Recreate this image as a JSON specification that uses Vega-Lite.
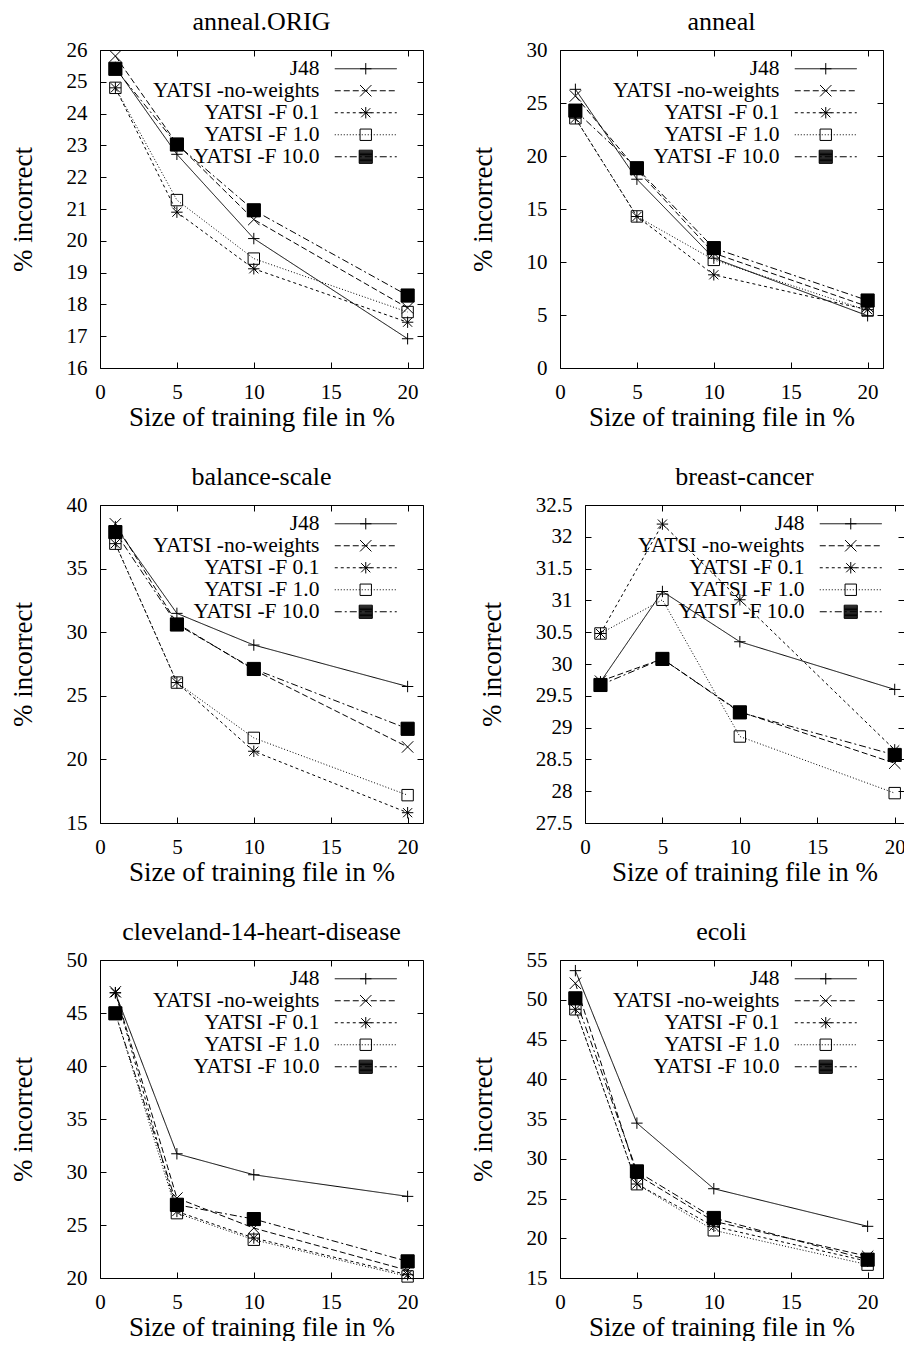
{
"$schema": "https://vega.github.io/schema/vega-lite/v6.json",
"background": "white",
"padding": {"left": 8, "top": 8, "right": 0, "bottom": 0},
"autosize": {"type": "pad"},
"config": {
 "font": "Liberation Serif",
 "view": {"stroke": "black", "strokeWidth": 1},
 "axis": {"grid": false, "domain": false, "tickColor": "black", "tickSize": -6, "tickWidth": 1, "labelFont": "Liberation Serif", "labelFontSize": 21, "labelColor": "black", "labelFlush": false, "labelOverlap": false, "titleFont": "Liberation Serif", "titleFontSize": 27, "titleFontWeight": "normal", "titleColor": "black"},
 "axisX": {"labelPadding": 19, "titlePadding": 2},
 "axisY": {"labelPadding": 19, "titlePadding": 29},
 "title": {"font": "Liberation Serif", "fontSize": 26, "fontWeight": "normal", "color": "black", "offset": 4, "frame": "group", "baseline": "alphabetic"}
},
"data": {"values": [
{"dataset":"anneal.ORIG","method":"J48","train":1,"err":25.45},{"dataset":"anneal.ORIG","method":"J48","train":5,"err":22.72},{"dataset":"anneal.ORIG","method":"J48","train":10,"err":20.07},{"dataset":"anneal.ORIG","method":"J48","train":20,"err":16.92},
{"dataset":"anneal.ORIG","method":"YATSI -no-weights","train":1,"err":25.81},{"dataset":"anneal.ORIG","method":"YATSI -no-weights","train":5,"err":23.05},{"dataset":"anneal.ORIG","method":"YATSI -no-weights","train":10,"err":20.67},{"dataset":"anneal.ORIG","method":"YATSI -no-weights","train":20,"err":17.89},
{"dataset":"anneal.ORIG","method":"YATSI -F 0.1","train":1,"err":24.81},{"dataset":"anneal.ORIG","method":"YATSI -F 0.1","train":5,"err":20.90},{"dataset":"anneal.ORIG","method":"YATSI -F 0.1","train":10,"err":19.12},{"dataset":"anneal.ORIG","method":"YATSI -F 0.1","train":20,"err":17.44},
{"dataset":"anneal.ORIG","method":"YATSI -F 1.0","train":1,"err":24.81},{"dataset":"anneal.ORIG","method":"YATSI -F 1.0","train":5,"err":21.28},{"dataset":"anneal.ORIG","method":"YATSI -F 1.0","train":10,"err":19.44},{"dataset":"anneal.ORIG","method":"YATSI -F 1.0","train":20,"err":17.76},
{"dataset":"anneal.ORIG","method":"YATSI -F 10.0","train":1,"err":25.41},{"dataset":"anneal.ORIG","method":"YATSI -F 10.0","train":5,"err":23.03},{"dataset":"anneal.ORIG","method":"YATSI -F 10.0","train":10,"err":20.96},{"dataset":"anneal.ORIG","method":"YATSI -F 10.0","train":20,"err":18.28},

{"dataset":"anneal","method":"J48","train":1,"err":26.29},{"dataset":"anneal","method":"J48","train":5,"err":17.81},{"dataset":"anneal","method":"J48","train":10,"err":10.36},{"dataset":"anneal","method":"J48","train":20,"err":4.93},
{"dataset":"anneal","method":"YATSI -no-weights","train":1,"err":25.66},{"dataset":"anneal","method":"YATSI -no-weights","train":5,"err":18.7},{"dataset":"anneal","method":"YATSI -no-weights","train":10,"err":10.83},{"dataset":"anneal","method":"YATSI -no-weights","train":20,"err":5.8},
{"dataset":"anneal","method":"YATSI -F 0.1","train":1,"err":23.56},{"dataset":"anneal","method":"YATSI -F 0.1","train":5,"err":14.29},{"dataset":"anneal","method":"YATSI -F 0.1","train":10,"err":8.79},{"dataset":"anneal","method":"YATSI -F 0.1","train":20,"err":5.5},
{"dataset":"anneal","method":"YATSI -F 1.0","train":1,"err":23.56},{"dataset":"anneal","method":"YATSI -F 1.0","train":5,"err":14.3},{"dataset":"anneal","method":"YATSI -F 1.0","train":10,"err":10.2},{"dataset":"anneal","method":"YATSI -F 1.0","train":20,"err":5.43},
{"dataset":"anneal","method":"YATSI -F 10.0","train":1,"err":24.28},{"dataset":"anneal","method":"YATSI -F 10.0","train":5,"err":18.85},{"dataset":"anneal","method":"YATSI -F 10.0","train":10,"err":11.31},{"dataset":"anneal","method":"YATSI -F 10.0","train":20,"err":6.37},

{"dataset":"balance-scale","method":"J48","train":1,"err":38.3},{"dataset":"balance-scale","method":"J48","train":5,"err":31.48},{"dataset":"balance-scale","method":"J48","train":10,"err":28.99},{"dataset":"balance-scale","method":"J48","train":20,"err":25.73},
{"dataset":"balance-scale","method":"YATSI -no-weights","train":1,"err":38.52},{"dataset":"balance-scale","method":"YATSI -no-weights","train":5,"err":30.7},{"dataset":"balance-scale","method":"YATSI -no-weights","train":10,"err":27.04},{"dataset":"balance-scale","method":"YATSI -no-weights","train":20,"err":20.98},
{"dataset":"balance-scale","method":"YATSI -F 0.1","train":1,"err":36.96},{"dataset":"balance-scale","method":"YATSI -F 0.1","train":5,"err":26.04},{"dataset":"balance-scale","method":"YATSI -F 0.1","train":10,"err":20.64},{"dataset":"balance-scale","method":"YATSI -F 0.1","train":20,"err":15.81},
{"dataset":"balance-scale","method":"YATSI -F 1.0","train":1,"err":36.96},{"dataset":"balance-scale","method":"YATSI -F 1.0","train":5,"err":26.04},{"dataset":"balance-scale","method":"YATSI -F 1.0","train":10,"err":21.69},{"dataset":"balance-scale","method":"YATSI -F 1.0","train":20,"err":17.19},
{"dataset":"balance-scale","method":"YATSI -F 10.0","train":1,"err":37.87},{"dataset":"balance-scale","method":"YATSI -F 10.0","train":5,"err":30.61},{"dataset":"balance-scale","method":"YATSI -F 10.0","train":10,"err":27.11},{"dataset":"balance-scale","method":"YATSI -F 10.0","train":20,"err":22.41},

{"dataset":"breast-cancer","method":"J48","train":1,"err":29.72},{"dataset":"breast-cancer","method":"J48","train":5,"err":31.14},{"dataset":"breast-cancer","method":"J48","train":10,"err":30.35},{"dataset":"breast-cancer","method":"J48","train":20,"err":29.6},
{"dataset":"breast-cancer","method":"YATSI -no-weights","train":1,"err":29.73},{"dataset":"breast-cancer","method":"YATSI -no-weights","train":5,"err":30.08},{"dataset":"breast-cancer","method":"YATSI -no-weights","train":10,"err":29.25},{"dataset":"breast-cancer","method":"YATSI -no-weights","train":20,"err":28.44},
{"dataset":"breast-cancer","method":"YATSI -F 0.1","train":1,"err":30.48},{"dataset":"breast-cancer","method":"YATSI -F 0.1","train":5,"err":32.2},{"dataset":"breast-cancer","method":"YATSI -F 0.1","train":10,"err":31.01},{"dataset":"breast-cancer","method":"YATSI -F 0.1","train":20,"err":28.65},
{"dataset":"breast-cancer","method":"YATSI -F 1.0","train":1,"err":30.48},{"dataset":"breast-cancer","method":"YATSI -F 1.0","train":5,"err":31.01},{"dataset":"breast-cancer","method":"YATSI -F 1.0","train":10,"err":28.86},{"dataset":"breast-cancer","method":"YATSI -F 1.0","train":20,"err":27.97},
{"dataset":"breast-cancer","method":"YATSI -F 10.0","train":1,"err":29.67},{"dataset":"breast-cancer","method":"YATSI -F 10.0","train":5,"err":30.08},{"dataset":"breast-cancer","method":"YATSI -F 10.0","train":10,"err":29.24},{"dataset":"breast-cancer","method":"YATSI -F 10.0","train":20,"err":28.57},

{"dataset":"cleveland-14-heart-disease","method":"J48","train":1,"err":46.9},{"dataset":"cleveland-14-heart-disease","method":"J48","train":5,"err":31.72},{"dataset":"cleveland-14-heart-disease","method":"J48","train":10,"err":29.74},{"dataset":"cleveland-14-heart-disease","method":"J48","train":20,"err":27.7},
{"dataset":"cleveland-14-heart-disease","method":"YATSI -no-weights","train":1,"err":47.0},{"dataset":"cleveland-14-heart-disease","method":"YATSI -no-weights","train":5,"err":27.54},{"dataset":"cleveland-14-heart-disease","method":"YATSI -no-weights","train":10,"err":24.71},{"dataset":"cleveland-14-heart-disease","method":"YATSI -no-weights","train":20,"err":20.72},
{"dataset":"cleveland-14-heart-disease","method":"YATSI -F 0.1","train":1,"err":46.92},{"dataset":"cleveland-14-heart-disease","method":"YATSI -F 0.1","train":5,"err":26.28},{"dataset":"cleveland-14-heart-disease","method":"YATSI -F 0.1","train":10,"err":23.77},{"dataset":"cleveland-14-heart-disease","method":"YATSI -F 0.1","train":20,"err":20.31},
{"dataset":"cleveland-14-heart-disease","method":"YATSI -F 1.0","train":1,"err":45.0},{"dataset":"cleveland-14-heart-disease","method":"YATSI -F 1.0","train":5,"err":26.12},{"dataset":"cleveland-14-heart-disease","method":"YATSI -F 1.0","train":10,"err":23.61},{"dataset":"cleveland-14-heart-disease","method":"YATSI -F 1.0","train":20,"err":20.15},
{"dataset":"cleveland-14-heart-disease","method":"YATSI -F 10.0","train":1,"err":44.97},{"dataset":"cleveland-14-heart-disease","method":"YATSI -F 10.0","train":5,"err":26.91},{"dataset":"cleveland-14-heart-disease","method":"YATSI -F 10.0","train":10,"err":25.56},{"dataset":"cleveland-14-heart-disease","method":"YATSI -F 10.0","train":20,"err":21.57},

{"dataset":"ecoli","method":"J48","train":1,"err":53.66},{"dataset":"ecoli","method":"J48","train":5,"err":34.48},{"dataset":"ecoli","method":"J48","train":10,"err":26.23},{"dataset":"ecoli","method":"J48","train":20,"err":21.5},
{"dataset":"ecoli","method":"YATSI -no-weights","train":1,"err":52.07},{"dataset":"ecoli","method":"YATSI -no-weights","train":5,"err":28.0},{"dataset":"ecoli","method":"YATSI -no-weights","train":10,"err":22.13},{"dataset":"ecoli","method":"YATSI -no-weights","train":20,"err":17.73},
{"dataset":"ecoli","method":"YATSI -F 0.1","train":1,"err":48.8},{"dataset":"ecoli","method":"YATSI -F 0.1","train":5,"err":26.82},{"dataset":"ecoli","method":"YATSI -F 0.1","train":10,"err":21.5},{"dataset":"ecoli","method":"YATSI -F 0.1","train":20,"err":17.1},
{"dataset":"ecoli","method":"YATSI -F 1.0","train":1,"err":48.8},{"dataset":"ecoli","method":"YATSI -F 1.0","train":5,"err":26.8},{"dataset":"ecoli","method":"YATSI -F 1.0","train":10,"err":21.0},{"dataset":"ecoli","method":"YATSI -F 1.0","train":20,"err":16.68},
{"dataset":"ecoli","method":"YATSI -F 10.0","train":1,"err":50.18},{"dataset":"ecoli","method":"YATSI -F 10.0","train":5,"err":28.41},{"dataset":"ecoli","method":"YATSI -F 10.0","train":10,"err":22.55},{"dataset":"ecoli","method":"YATSI -F 10.0","train":20,"err":17.31}
]},
"spacing": 32,
"resolve": {"scale": {"x": "independent", "y": "independent", "strokeDash": "independent", "shape": "independent"}, "legend": {"strokeDash": "independent", "shape": "independent"}},
"vconcat": [
{"hconcat": [
 {"title": "anneal.ORIG", "width": 323, "height": 318,
  "transform": [{"filter": {"field": "dataset", "equal": "anneal.ORIG"}}],
  "layer": [
   {"mark": {"type": "line", "color": "black", "strokeWidth": 1},
    "encoding": {
     "x": {"field": "train", "type": "quantitative", "scale": {"domain": [0, 21], "nice": false, "zero": false}, "axis": {"orient": "bottom", "values": [0,5,10,15,20], "title": "Size of training file in %"}},
     "y": {"field": "err", "type": "quantitative", "scale": {"domain": [16, 26], "nice": false, "zero": false}, "axis": {"orient": "left", "values": [16,17,18,19,20,21,22,23,24,25,26], "format": "~g", "title": "% incorrect"}},
     "strokeDash": {"field": "method", "type": "nominal", "scale": {"domain": ["J48","YATSI -no-weights","YATSI -F 0.1","YATSI -F 1.0","YATSI -F 10.0"], "range": [[1,0],[6,3],[3,3],[1,2],[7,3,2,3]]},
      "legend": {"orient": "none", "legendX": 255, "legendY": 8, "title": null, "symbolType": "M-15.5,0H15.5", "symbolSize": 16, "symbolStrokeColor": "black", "symbolStrokeWidth": 1, "symbolFillColor": "transparent", "padding": 0, "rowPadding": -4.5, "labelAlign": "right", "labelBaseline": "middle", "labelOffset": -57, "labelFont": "Liberation Serif", "labelFontSize": 21.5, "labelColor": "black", "labelLimit": 400}}
    }},
   {"mark": {"type": "point", "size": 130, "color": "black", "stroke": "black", "strokeWidth": 1, "opacity": 1},
    "encoding": {
     "x": {"field": "train", "type": "quantitative", "scale": {"domain": [0, 21], "nice": false, "zero": false}, "axis": {"orient": "top", "values": [0,5,10,15,20], "labels": false, "title": null}},
     "y": {"field": "err", "type": "quantitative", "scale": {"domain": [16, 26], "nice": false, "zero": false}, "axis": {"orient": "right", "values": [16,17,18,19,20,21,22,23,24,25,26], "labels": false, "title": null}},
     "shape": {"field": "method", "type": "nominal", "sort": ["J48","YATSI -no-weights","YATSI -F 0.1","YATSI -F 1.0","YATSI -F 10.0"], "scale": {"range": ["M-1,0H1M0,-1V1","M-1,-1L1,1M-1,1L1,-1","M-1,0H1M0,-1V1M-0.8,-0.8L0.8,0.8M-0.8,0.8L0.8,-0.8","M-1,-1H1V1H-1Z","M-1.15,-1.15H1.15V1.15H-1.15ZM-1.15,-1H1.15M-1.15,-0.85H1.15M-1.15,-0.7H1.15M-1.15,-0.55H1.15M-1.15,-0.4H1.15M-1.15,-0.25H1.15M-1.15,-0.1H1.15M-1.15,0.05H1.15M-1.15,0.2H1.15M-1.15,0.35H1.15M-1.15,0.5H1.15M-1.15,0.65H1.15M-1.15,0.8H1.15M-1.15,0.95H1.15M-1.15,1.1H1.15"]},
      "legend": {"orient": "none", "legendX": 255, "legendY": 8, "title": null, "symbolSize": 130, "symbolStrokeColor": "black", "symbolStrokeWidth": 1, "symbolFillColor": "white", "padding": 0, "rowPadding": -4.5, "labelFontSize": 21.5, "labelOpacity": 0, "labelExpr": "' '", "labelLimit": 400, "labelBaseline": "middle", "encode": {"symbols": {"update": {"fill": {"value": "white"}, "fillOpacity": {"value": 1}, "opacity": {"value": 1}}}}}},
     "fill": {"condition": {"test": "datum.method === 'YATSI -F 10.0'", "value": "black"}, "value": "transparent"}
    }}
  ]},
 {"title": "anneal", "width": 323, "height": 318,
  "transform": [{"filter": {"field": "dataset", "equal": "anneal"}}],
  "layer": [
   {"mark": {"type": "line", "color": "black", "strokeWidth": 1},
    "encoding": {
     "x": {"field": "train", "type": "quantitative", "scale": {"domain": [0, 21], "nice": false, "zero": false}, "axis": {"orient": "bottom", "values": [0,5,10,15,20], "title": "Size of training file in %"}},
     "y": {"field": "err", "type": "quantitative", "scale": {"domain": [0, 30], "nice": false, "zero": false}, "axis": {"orient": "left", "values": [0,5,10,15,20,25,30], "format": "~g", "title": "% incorrect"}},
     "strokeDash": {"field": "method", "type": "nominal", "scale": {"domain": ["J48","YATSI -no-weights","YATSI -F 0.1","YATSI -F 1.0","YATSI -F 10.0"], "range": [[1,0],[6,3],[3,3],[1,2],[7,3,2,3]]},
      "legend": {"orient": "none", "legendX": 255, "legendY": 8, "title": null, "symbolType": "M-15.5,0H15.5", "symbolSize": 16, "symbolStrokeColor": "black", "symbolStrokeWidth": 1, "symbolFillColor": "transparent", "padding": 0, "rowPadding": -4.5, "labelAlign": "right", "labelBaseline": "middle", "labelOffset": -57, "labelFont": "Liberation Serif", "labelFontSize": 21.5, "labelColor": "black", "labelLimit": 400}}
    }},
   {"mark": {"type": "point", "size": 130, "color": "black", "stroke": "black", "strokeWidth": 1, "opacity": 1},
    "encoding": {
     "x": {"field": "train", "type": "quantitative", "scale": {"domain": [0, 21], "nice": false, "zero": false}, "axis": {"orient": "top", "values": [0,5,10,15,20], "labels": false, "title": null}},
     "y": {"field": "err", "type": "quantitative", "scale": {"domain": [0, 30], "nice": false, "zero": false}, "axis": {"orient": "right", "values": [0,5,10,15,20,25,30], "labels": false, "title": null}},
     "shape": {"field": "method", "type": "nominal", "sort": ["J48","YATSI -no-weights","YATSI -F 0.1","YATSI -F 1.0","YATSI -F 10.0"], "scale": {"range": ["M-1,0H1M0,-1V1","M-1,-1L1,1M-1,1L1,-1","M-1,0H1M0,-1V1M-0.8,-0.8L0.8,0.8M-0.8,0.8L0.8,-0.8","M-1,-1H1V1H-1Z","M-1.15,-1.15H1.15V1.15H-1.15ZM-1.15,-1H1.15M-1.15,-0.85H1.15M-1.15,-0.7H1.15M-1.15,-0.55H1.15M-1.15,-0.4H1.15M-1.15,-0.25H1.15M-1.15,-0.1H1.15M-1.15,0.05H1.15M-1.15,0.2H1.15M-1.15,0.35H1.15M-1.15,0.5H1.15M-1.15,0.65H1.15M-1.15,0.8H1.15M-1.15,0.95H1.15M-1.15,1.1H1.15"]},
      "legend": {"orient": "none", "legendX": 255, "legendY": 8, "title": null, "symbolSize": 130, "symbolStrokeColor": "black", "symbolStrokeWidth": 1, "symbolFillColor": "white", "padding": 0, "rowPadding": -4.5, "labelFontSize": 21.5, "labelOpacity": 0, "labelExpr": "' '", "labelLimit": 400, "labelBaseline": "middle", "encode": {"symbols": {"update": {"fill": {"value": "white"}, "fillOpacity": {"value": 1}, "opacity": {"value": 1}}}}}},
     "fill": {"condition": {"test": "datum.method === 'YATSI -F 10.0'", "value": "black"}, "value": "transparent"}
    }}
  ]}
 ], "spacing": 137, "bounds": "flush",
 "resolve": {"scale": {"x": "independent", "y": "independent", "strokeDash": "independent", "shape": "independent"}, "legend": {"strokeDash": "independent", "shape": "independent"}}},
{"hconcat": [
 {"title": "balance-scale", "width": 323, "height": 318,
  "transform": [{"filter": {"field": "dataset", "equal": "balance-scale"}}],
  "layer": [
   {"mark": {"type": "line", "color": "black", "strokeWidth": 1},
    "encoding": {
     "x": {"field": "train", "type": "quantitative", "scale": {"domain": [0, 21], "nice": false, "zero": false}, "axis": {"orient": "bottom", "values": [0,5,10,15,20], "title": "Size of training file in %"}},
     "y": {"field": "err", "type": "quantitative", "scale": {"domain": [15, 40], "nice": false, "zero": false}, "axis": {"orient": "left", "values": [15,20,25,30,35,40], "format": "~g", "title": "% incorrect"}},
     "strokeDash": {"field": "method", "type": "nominal", "scale": {"domain": ["J48","YATSI -no-weights","YATSI -F 0.1","YATSI -F 1.0","YATSI -F 10.0"], "range": [[1,0],[6,3],[3,3],[1,2],[7,3,2,3]]},
      "legend": {"orient": "none", "legendX": 255, "legendY": 8, "title": null, "symbolType": "M-15.5,0H15.5", "symbolSize": 16, "symbolStrokeColor": "black", "symbolStrokeWidth": 1, "symbolFillColor": "transparent", "padding": 0, "rowPadding": -4.5, "labelAlign": "right", "labelBaseline": "middle", "labelOffset": -57, "labelFont": "Liberation Serif", "labelFontSize": 21.5, "labelColor": "black", "labelLimit": 400}}
    }},
   {"mark": {"type": "point", "size": 130, "color": "black", "stroke": "black", "strokeWidth": 1, "opacity": 1},
    "encoding": {
     "x": {"field": "train", "type": "quantitative", "scale": {"domain": [0, 21], "nice": false, "zero": false}, "axis": {"orient": "top", "values": [0,5,10,15,20], "labels": false, "title": null}},
     "y": {"field": "err", "type": "quantitative", "scale": {"domain": [15, 40], "nice": false, "zero": false}, "axis": {"orient": "right", "values": [15,20,25,30,35,40], "labels": false, "title": null}},
     "shape": {"field": "method", "type": "nominal", "sort": ["J48","YATSI -no-weights","YATSI -F 0.1","YATSI -F 1.0","YATSI -F 10.0"], "scale": {"range": ["M-1,0H1M0,-1V1","M-1,-1L1,1M-1,1L1,-1","M-1,0H1M0,-1V1M-0.8,-0.8L0.8,0.8M-0.8,0.8L0.8,-0.8","M-1,-1H1V1H-1Z","M-1.15,-1.15H1.15V1.15H-1.15ZM-1.15,-1H1.15M-1.15,-0.85H1.15M-1.15,-0.7H1.15M-1.15,-0.55H1.15M-1.15,-0.4H1.15M-1.15,-0.25H1.15M-1.15,-0.1H1.15M-1.15,0.05H1.15M-1.15,0.2H1.15M-1.15,0.35H1.15M-1.15,0.5H1.15M-1.15,0.65H1.15M-1.15,0.8H1.15M-1.15,0.95H1.15M-1.15,1.1H1.15"]},
      "legend": {"orient": "none", "legendX": 255, "legendY": 8, "title": null, "symbolSize": 130, "symbolStrokeColor": "black", "symbolStrokeWidth": 1, "symbolFillColor": "white", "padding": 0, "rowPadding": -4.5, "labelFontSize": 21.5, "labelOpacity": 0, "labelExpr": "' '", "labelLimit": 400, "labelBaseline": "middle", "encode": {"symbols": {"update": {"fill": {"value": "white"}, "fillOpacity": {"value": 1}, "opacity": {"value": 1}}}}}},
     "fill": {"condition": {"test": "datum.method === 'YATSI -F 10.0'", "value": "black"}, "value": "transparent"}
    }}
  ]},
 {"title": "breast-cancer", "width": 319, "height": 318,
  "transform": [{"filter": {"field": "dataset", "equal": "breast-cancer"}}],
  "layer": [
   {"mark": {"type": "line", "color": "black", "strokeWidth": 1},
    "encoding": {
     "x": {"field": "train", "type": "quantitative", "scale": {"domain": [0, 20.6], "nice": false, "zero": false}, "axis": {"orient": "bottom", "values": [0,5,10,15,20], "title": "Size of training file in %"}},
     "y": {"field": "err", "type": "quantitative", "scale": {"domain": [27.5, 32.5], "nice": false, "zero": false}, "axis": {"orient": "left", "values": [27.5,28,28.5,29,29.5,30,30.5,31,31.5,32,32.5], "format": "~g", "title": "% incorrect"}},
     "strokeDash": {"field": "method", "type": "nominal", "scale": {"domain": ["J48","YATSI -no-weights","YATSI -F 0.1","YATSI -F 1.0","YATSI -F 10.0"], "range": [[1,0],[6,3],[3,3],[1,2],[7,3,2,3]]},
      "legend": {"orient": "none", "legendX": 255, "legendY": 8, "title": null, "symbolType": "M-15.5,0H15.5", "symbolSize": 16, "symbolStrokeColor": "black", "symbolStrokeWidth": 1, "symbolFillColor": "transparent", "padding": 0, "rowPadding": -4.5, "labelAlign": "right", "labelBaseline": "middle", "labelOffset": -57, "labelFont": "Liberation Serif", "labelFontSize": 21.5, "labelColor": "black", "labelLimit": 400}}
    }},
   {"mark": {"type": "point", "size": 130, "color": "black", "stroke": "black", "strokeWidth": 1, "opacity": 1},
    "encoding": {
     "x": {"field": "train", "type": "quantitative", "scale": {"domain": [0, 20.6], "nice": false, "zero": false}, "axis": {"orient": "top", "values": [0,5,10,15,20], "labels": false, "title": null}},
     "y": {"field": "err", "type": "quantitative", "scale": {"domain": [27.5, 32.5], "nice": false, "zero": false}, "axis": {"orient": "right", "values": [27.5,28,28.5,29,29.5,30,30.5,31,31.5,32,32.5], "labels": false, "title": null}},
     "shape": {"field": "method", "type": "nominal", "sort": ["J48","YATSI -no-weights","YATSI -F 0.1","YATSI -F 1.0","YATSI -F 10.0"], "scale": {"range": ["M-1,0H1M0,-1V1","M-1,-1L1,1M-1,1L1,-1","M-1,0H1M0,-1V1M-0.8,-0.8L0.8,0.8M-0.8,0.8L0.8,-0.8","M-1,-1H1V1H-1Z","M-1.15,-1.15H1.15V1.15H-1.15ZM-1.15,-1H1.15M-1.15,-0.85H1.15M-1.15,-0.7H1.15M-1.15,-0.55H1.15M-1.15,-0.4H1.15M-1.15,-0.25H1.15M-1.15,-0.1H1.15M-1.15,0.05H1.15M-1.15,0.2H1.15M-1.15,0.35H1.15M-1.15,0.5H1.15M-1.15,0.65H1.15M-1.15,0.8H1.15M-1.15,0.95H1.15M-1.15,1.1H1.15"]},
      "legend": {"orient": "none", "legendX": 255, "legendY": 8, "title": null, "symbolSize": 130, "symbolStrokeColor": "black", "symbolStrokeWidth": 1, "symbolFillColor": "white", "padding": 0, "rowPadding": -4.5, "labelFontSize": 21.5, "labelOpacity": 0, "labelExpr": "' '", "labelLimit": 400, "labelBaseline": "middle", "encode": {"symbols": {"update": {"fill": {"value": "white"}, "fillOpacity": {"value": 1}, "opacity": {"value": 1}}}}}},
     "fill": {"condition": {"test": "datum.method === 'YATSI -F 10.0'", "value": "black"}, "value": "transparent"}
    }}
  ]}
 ], "spacing": 162, "bounds": "flush",
 "resolve": {"scale": {"x": "independent", "y": "independent", "strokeDash": "independent", "shape": "independent"}, "legend": {"strokeDash": "independent", "shape": "independent"}}},
{"hconcat": [
 {"title": "cleveland-14-heart-disease", "width": 323, "height": 318,
  "transform": [{"filter": {"field": "dataset", "equal": "cleveland-14-heart-disease"}}],
  "layer": [
   {"mark": {"type": "line", "color": "black", "strokeWidth": 1},
    "encoding": {
     "x": {"field": "train", "type": "quantitative", "scale": {"domain": [0, 21], "nice": false, "zero": false}, "axis": {"orient": "bottom", "values": [0,5,10,15,20], "title": "Size of training file in %"}},
     "y": {"field": "err", "type": "quantitative", "scale": {"domain": [20, 50], "nice": false, "zero": false}, "axis": {"orient": "left", "values": [20,25,30,35,40,45,50], "format": "~g", "title": "% incorrect"}},
     "strokeDash": {"field": "method", "type": "nominal", "scale": {"domain": ["J48","YATSI -no-weights","YATSI -F 0.1","YATSI -F 1.0","YATSI -F 10.0"], "range": [[1,0],[6,3],[3,3],[1,2],[7,3,2,3]]},
      "legend": {"orient": "none", "legendX": 255, "legendY": 8, "title": null, "symbolType": "M-15.5,0H15.5", "symbolSize": 16, "symbolStrokeColor": "black", "symbolStrokeWidth": 1, "symbolFillColor": "transparent", "padding": 0, "rowPadding": -4.5, "labelAlign": "right", "labelBaseline": "middle", "labelOffset": -57, "labelFont": "Liberation Serif", "labelFontSize": 21.5, "labelColor": "black", "labelLimit": 400}}
    }},
   {"mark": {"type": "point", "size": 130, "color": "black", "stroke": "black", "strokeWidth": 1, "opacity": 1},
    "encoding": {
     "x": {"field": "train", "type": "quantitative", "scale": {"domain": [0, 21], "nice": false, "zero": false}, "axis": {"orient": "top", "values": [0,5,10,15,20], "labels": false, "title": null}},
     "y": {"field": "err", "type": "quantitative", "scale": {"domain": [20, 50], "nice": false, "zero": false}, "axis": {"orient": "right", "values": [20,25,30,35,40,45,50], "labels": false, "title": null}},
     "shape": {"field": "method", "type": "nominal", "sort": ["J48","YATSI -no-weights","YATSI -F 0.1","YATSI -F 1.0","YATSI -F 10.0"], "scale": {"range": ["M-1,0H1M0,-1V1","M-1,-1L1,1M-1,1L1,-1","M-1,0H1M0,-1V1M-0.8,-0.8L0.8,0.8M-0.8,0.8L0.8,-0.8","M-1,-1H1V1H-1Z","M-1.15,-1.15H1.15V1.15H-1.15ZM-1.15,-1H1.15M-1.15,-0.85H1.15M-1.15,-0.7H1.15M-1.15,-0.55H1.15M-1.15,-0.4H1.15M-1.15,-0.25H1.15M-1.15,-0.1H1.15M-1.15,0.05H1.15M-1.15,0.2H1.15M-1.15,0.35H1.15M-1.15,0.5H1.15M-1.15,0.65H1.15M-1.15,0.8H1.15M-1.15,0.95H1.15M-1.15,1.1H1.15"]},
      "legend": {"orient": "none", "legendX": 255, "legendY": 8, "title": null, "symbolSize": 130, "symbolStrokeColor": "black", "symbolStrokeWidth": 1, "symbolFillColor": "white", "padding": 0, "rowPadding": -4.5, "labelFontSize": 21.5, "labelOpacity": 0, "labelExpr": "' '", "labelLimit": 400, "labelBaseline": "middle", "encode": {"symbols": {"update": {"fill": {"value": "white"}, "fillOpacity": {"value": 1}, "opacity": {"value": 1}}}}}},
     "fill": {"condition": {"test": "datum.method === 'YATSI -F 10.0'", "value": "black"}, "value": "transparent"}
    }}
  ]},
 {"title": "ecoli", "width": 323, "height": 318,
  "transform": [{"filter": {"field": "dataset", "equal": "ecoli"}}],
  "layer": [
   {"mark": {"type": "line", "color": "black", "strokeWidth": 1},
    "encoding": {
     "x": {"field": "train", "type": "quantitative", "scale": {"domain": [0, 21], "nice": false, "zero": false}, "axis": {"orient": "bottom", "values": [0,5,10,15,20], "title": "Size of training file in %"}},
     "y": {"field": "err", "type": "quantitative", "scale": {"domain": [15, 55], "nice": false, "zero": false}, "axis": {"orient": "left", "values": [15,20,25,30,35,40,45,50,55], "format": "~g", "title": "% incorrect"}},
     "strokeDash": {"field": "method", "type": "nominal", "scale": {"domain": ["J48","YATSI -no-weights","YATSI -F 0.1","YATSI -F 1.0","YATSI -F 10.0"], "range": [[1,0],[6,3],[3,3],[1,2],[7,3,2,3]]},
      "legend": {"orient": "none", "legendX": 255, "legendY": 8, "title": null, "symbolType": "M-15.5,0H15.5", "symbolSize": 16, "symbolStrokeColor": "black", "symbolStrokeWidth": 1, "symbolFillColor": "transparent", "padding": 0, "rowPadding": -4.5, "labelAlign": "right", "labelBaseline": "middle", "labelOffset": -57, "labelFont": "Liberation Serif", "labelFontSize": 21.5, "labelColor": "black", "labelLimit": 400}}
    }},
   {"mark": {"type": "point", "size": 130, "color": "black", "stroke": "black", "strokeWidth": 1, "opacity": 1},
    "encoding": {
     "x": {"field": "train", "type": "quantitative", "scale": {"domain": [0, 21], "nice": false, "zero": false}, "axis": {"orient": "top", "values": [0,5,10,15,20], "labels": false, "title": null}},
     "y": {"field": "err", "type": "quantitative", "scale": {"domain": [15, 55], "nice": false, "zero": false}, "axis": {"orient": "right", "values": [15,20,25,30,35,40,45,50,55], "labels": false, "title": null}},
     "shape": {"field": "method", "type": "nominal", "sort": ["J48","YATSI -no-weights","YATSI -F 0.1","YATSI -F 1.0","YATSI -F 10.0"], "scale": {"range": ["M-1,0H1M0,-1V1","M-1,-1L1,1M-1,1L1,-1","M-1,0H1M0,-1V1M-0.8,-0.8L0.8,0.8M-0.8,0.8L0.8,-0.8","M-1,-1H1V1H-1Z","M-1.15,-1.15H1.15V1.15H-1.15ZM-1.15,-1H1.15M-1.15,-0.85H1.15M-1.15,-0.7H1.15M-1.15,-0.55H1.15M-1.15,-0.4H1.15M-1.15,-0.25H1.15M-1.15,-0.1H1.15M-1.15,0.05H1.15M-1.15,0.2H1.15M-1.15,0.35H1.15M-1.15,0.5H1.15M-1.15,0.65H1.15M-1.15,0.8H1.15M-1.15,0.95H1.15M-1.15,1.1H1.15"]},
      "legend": {"orient": "none", "legendX": 255, "legendY": 8, "title": null, "symbolSize": 130, "symbolStrokeColor": "black", "symbolStrokeWidth": 1, "symbolFillColor": "white", "padding": 0, "rowPadding": -4.5, "labelFontSize": 21.5, "labelOpacity": 0, "labelExpr": "' '", "labelLimit": 400, "labelBaseline": "middle", "encode": {"symbols": {"update": {"fill": {"value": "white"}, "fillOpacity": {"value": 1}, "opacity": {"value": 1}}}}}},
     "fill": {"condition": {"test": "datum.method === 'YATSI -F 10.0'", "value": "black"}, "value": "transparent"}
    }}
  ]}
 ], "spacing": 137, "bounds": "flush",
 "resolve": {"scale": {"x": "independent", "y": "independent", "strokeDash": "independent", "shape": "independent"}, "legend": {"strokeDash": "independent", "shape": "independent"}}}
]
}
